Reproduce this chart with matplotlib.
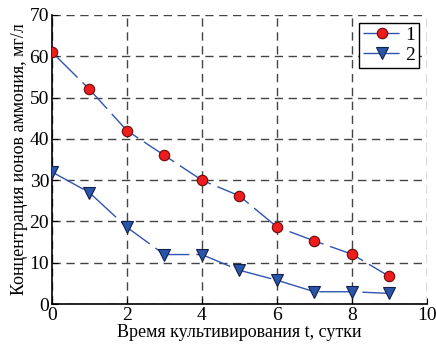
import numpy as np
import matplotlib.pyplot as plt

plt.rcParams['font.family'] = ['Liberation Serif', 'DejaVu Serif']

# data
t = [0, 1, 2, 3, 4, 5, 6, 7, 8, 9]
series_1 = [61, 52, 42, 36, 30, 26.2, 18.7, 15.3, 12.1, 6.7]
series_2 = [32, 27, 18.6, 12, 12, 8.2, 5.8, 3.0, 3.0, 2.6]
labels = ['1', '2']

fig = plt.figure(figsize=(4.36, 3.46), dpi=100)
ax = fig.add_axes([0.119, 0.121, 0.860, 0.836])

line_color = '#2f55b0'
ax.plot(t, series_1, color=line_color, lw=1, dashes=(26, 5),
        marker='o', ms=7.5, mfc='#ee1c1c', mec='#6a0a0a', mew=0.8,
        label=labels[0], zorder=3)
ax.plot(t, series_2, color=line_color, lw=1, dashes=(26, 5),
        marker='v', ms=8, mfc='#2a55a8', mec='#10204a', mew=0.8,
        label=labels[1], zorder=3)

ax.set_xlim(0, 10)
ax.set_ylim(0, 70)
ax.set_xticks(np.arange(0, 11, 2))
ax.set_yticks(np.arange(0, 71, 10))
ax.grid(True, color='#444444', linestyle=(0, (6, 4)), linewidth=1)
ax.tick_params(direction='in', labelsize=14, length=4, pad=2)
for s in ['top', 'right']:
    ax.spines[s].set_visible(False)
ax.spines['left'].set_linewidth(1.2)
ax.spines['bottom'].set_linewidth(1.2)

ax.set_xlabel('Время культивирования t, сутки', fontsize=13, labelpad=0)
ax.set_ylabel('Концентрация ионов аммония, мг/л', fontsize=13, labelpad=1)

leg = ax.legend(loc='upper right', fontsize=14, frameon=True, fancybox=False,
                handlelength=2.0, handletextpad=0.2, borderpad=0.2,
                labelspacing=0.1, borderaxespad=0.4)
leg.get_frame().set_edgecolor('black')
leg.get_frame().set_linewidth(1)
leg.get_frame().set_alpha(1)

plt.savefig('out.png', dpi=100)
